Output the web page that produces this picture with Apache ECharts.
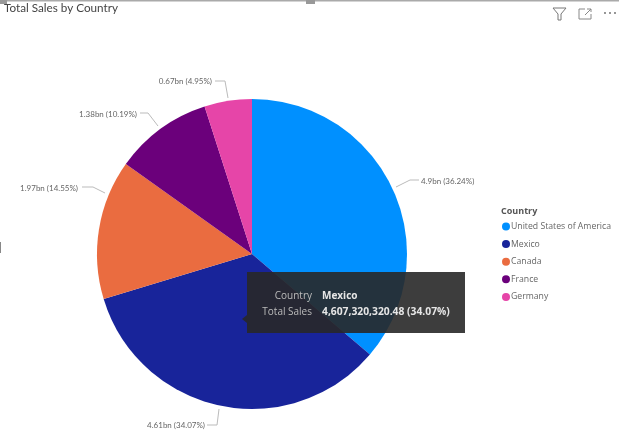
<!DOCTYPE html>
<html>
<head>
<meta charset="utf-8">
<style>
  html, body { margin: 0; padding: 0; background: #fff; }
  #chart { width: 619px; height: 441px; }
</style>
<script src="https://cdn.jsdelivr.net/npm/echarts@6/dist/echarts.min.js"></script>
</head>
<body>
<div id="chart"></div>
<script>
// data
const countries = ["United States of America", "Mexico", "Canada", "France", "Germany"];
const salesBn = [4.901, 4.607, 1.968, 1.378, 0.669];
const shownValues = ["4.9bn", "4.61bn", "1.97bn", "1.38bn", "0.67bn"];
const shownPercents = ["36.24%", "34.07%", "14.55%", "10.19%", "4.95%"];
const colors = ["#0090FF", "#18249A", "#EA6C40", "#6B007B", "#E645A8"];

// where each callout sits, same order as countries
const callouts = [
  { x: 421, y: 181, align: "left", line: [[396, 187], [410, 180], [419, 180]] },
  { x: 205, y: 425, align: "right", line: [[219, 409], [217, 425], [207, 425]] },
  { x: 78, y: 188, align: "right", line: [[105, 193], [93, 187], [82, 187]] },
  { x: 137, y: 114, align: "right", line: [[158, 126], [148, 113], [140, 113]] },
  { x: 212, y: 81, align: "right", line: [[228, 98], [225, 81], [215, 81]] }
];

const chart = echarts.init(document.getElementById("chart"), null, { renderer: "canvas" });
const uiFont = "'Open Sans', sans-serif";

chart.setOption({
  animation: false,
  backgroundColor: "#fff",
  title: {
    text: "Total Sales by Country",
    left: 4,
    top: 2,
    padding: 0,
    textStyle: { fontFamily: "Lato", fontSize: 11.7, fontWeight: 400, color: "#444" }
  },
  legend: {
    orient: "vertical",
    left: 502,
    top: 221,
    icon: "circle",
    itemWidth: 8,
    itemHeight: 8,
    itemGap: 6.6,
    padding: 0,
    data: countries,
    textStyle: { fontFamily: uiFont, fontSize: 8.7, color: "#666", padding: [0, 0, 0, -4], lineHeight: 11 }
  },
  series: [{
    type: "pie",
    center: [252, 254],
    radius: [0, 155],
    startAngle: 90,
    clockwise: true,
    color: colors,
    data: countries.map((name, i) => ({ name: name, value: salesBn[i] })),
    label: {
      formatter: p => shownValues[p.dataIndex] + " (" + shownPercents[p.dataIndex] + ")",
      fontFamily: "Lato",
      fontSize: 8,
      color: "#666",
      overflow: "none"
    },
    labelLine: {
      length: 12,
      length2: 10,
      lineStyle: { color: "#bbb", width: 1 }
    },
    labelLayout: p => {
      const c = callouts[p.dataIndex];
      return { x: c.x, y: c.y, align: c.align, verticalAlign: "middle", labelLinePoints: c.line };
    },
    emphasis: { disabled: true }
  }],
  graphic: [
    // frame line along the top
    { type: "rect", shape: { x: 0, y: 0, width: 619, height: 1.5 }, style: { fill: "#aaa" } },
    { type: "rect", shape: { x: 306, y: 0, width: 9, height: 4 }, style: { fill: "#999" } },
    { type: "rect", shape: { x: 0, y: 0, width: 7, height: 4 }, style: { fill: "#999" } },
    { type: "rect", shape: { x: 0, y: 242, width: 1, height: 11 }, style: { fill: "#888" } },
    // filter icon
    { type: "polyline", shape: { points: [[553, 8], [566, 8], [561, 14], [561, 20], [558, 20], [558, 14], [553, 8]] },
      style: { fill: "none", stroke: "#777", lineWidth: 1 } },
    // focus icon
    { type: "polyline", shape: { points: [[585, 9], [579, 9], [579, 19], [591, 19], [591, 14]] },
      style: { fill: "none", stroke: "#888", lineWidth: 1 } },
    { type: "polyline", shape: { points: [[585, 15], [591, 9]] }, style: { fill: "none", stroke: "#888", lineWidth: 1 } },
    { type: "polyline", shape: { points: [[587, 9], [591, 9], [591, 12]] }, style: { fill: "none", stroke: "#888", lineWidth: 1 } },
    // more icon
    { type: "circle", shape: { cx: 605, cy: 13, r: 0.9 }, style: { fill: "#666" } },
    { type: "circle", shape: { cx: 610, cy: 13, r: 0.9 }, style: { fill: "#666" } },
    { type: "circle", shape: { cx: 615, cy: 13, r: 0.9 }, style: { fill: "#666" } },
    // legend title
    { type: "text", x: 501, y: 207, style: { text: "Country", fontFamily: uiFont, fontSize: 9, fontWeight: 700, fill: "#555" } },
    // tooltip
    { type: "polygon", z: 100, shape: { points: [[247, 272], [465, 272], [465, 333], [247, 333], [247, 323], [242, 319], [247, 315]] },
      style: { fill: "rgba(40,40,40,0.9)" } },
    { type: "text", z: 101, x: 312, y: 291, style: { text: "Country", fontFamily: uiFont, fontSize: 10, fill: "#bbb", align: "right" } },
    { type: "text", z: 101, x: 312, y: 307, style: { text: "Total Sales", fontFamily: uiFont, fontSize: 10, fill: "#bbb", align: "right" } },
    { type: "text", z: 101, x: 322, y: 291, style: { text: "Mexico", fontFamily: uiFont, fontSize: 10, fontWeight: 700, fill: "#e6e6e6" } },
    { type: "text", z: 101, x: 322, y: 307, style: { text: "4,607,320,320.48 (34.07%)", fontFamily: uiFont, fontSize: 10.3, fontWeight: 700, fill: "#e6e6e6" } }
  ]
});
</script>
</body>
</html>
